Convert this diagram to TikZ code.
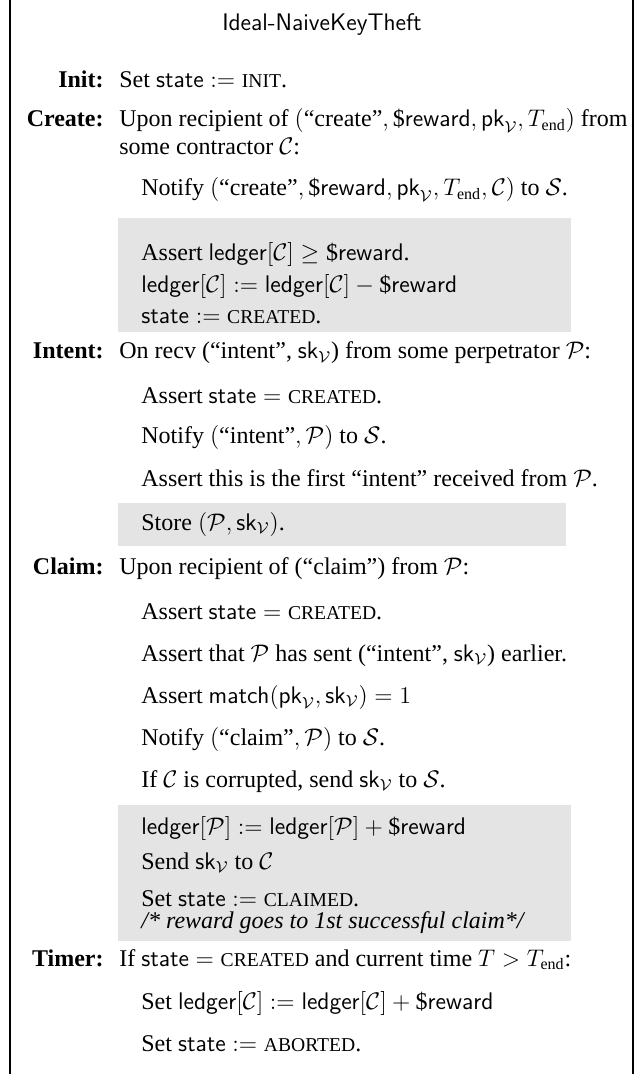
\documentclass[tikz,border=0pt]{standalone}
\usepackage{amsmath}
\usepackage{fontspec}
\setmainfont{Liberation Serif}
\usetikzlibrary{positioning}

\definecolor{boxgray}{RGB}{228,228,228}
% Times has no small caps: scaled capitals stand in for them
\newcommand{\fakesc}[1]{{\fontsize{9.8}{10}\selectfont #1}}
\newcommand{\sfv}[1]{\mathsf{#1}}
\newcommand{\Vk}{_{\mathcal{V}}}
\newcommand{\rew}{\text{\$}\mathsf{reward}}
\newcommand{\Tend}{T_{\mathrm{end}}}

\tikzset{
  txt/.style={anchor=base west, inner sep=0pt, font=\fontsize{12}{14}\selectfont},
  lbl/.style={anchor=base east, inner sep=0pt, font=\fontsize{12}{14}\selectfont\bfseries},
  ttl/.style={anchor=base, inner sep=0pt, font=\fontsize{12}{14}\selectfont\sffamily},
  shade/.style={fill=boxgray, draw=none},
  frame/.style={line width=0.7pt, line cap=butt},
}

\begin{document}
\begin{tikzpicture}[x=0.5pt, y=-0.5pt]
\useasboundingbox (0,0) rectangle (639,1074);

% side rules of the frame
\draw[frame] (10,0) -- (10,1074);
\draw[frame] (633,0) -- (633,1074);

% shaded blocks
\fill[shade] (118,218) rectangle (571,332);
\fill[shade] (118,503) rectangle (566,546);
\fill[shade] (118,805) rectangle (571,941);

\def\lx{104}
\def\bx{119}
\def\ix{141}

\node[ttl] (title) at (322,31) {Ideal-NaiveKeyTheft};

% Init
\node[lbl] (lInit) at (\lx,88) {Init:};
\node[txt] (i1) at (\bx,88) {Set $\sfv{state} := \text{\fakesc{INIT}}$.};

% Create
\node[lbl] (lCreate) at (\lx,127) {Create:};
\node[txt] (c1) at (\bx,127) {Upon recipient of $(\text{“create”}, \rew, \sfv{pk}\Vk, \Tend)$ from};
\node[txt] (c2) at (\bx,155) {some contractor $\mathcal{C}$:};
\node[txt] (c3) at (\ix,196) {Notify $(\text{“create”}, \rew, \sfv{pk}\Vk, \Tend, \mathcal{C})$ to $\mathcal{S}$.};
\node[txt] (c4) at (\ix,261) {Assert $\sfv{ledger}[\mathcal{C}] \geq \rew$.};
\node[txt] (c5) at (\ix,293) {$\sfv{ledger}[\mathcal{C}] := \sfv{ledger}[\mathcal{C}] - \rew$};
\node[txt] (c6) at (\ix,324) {$\sfv{state} := \text{\fakesc{CREATED}}$.};

% Intent
\node[lbl] (lIntent) at (\lx,359) {Intent:};
\node[txt] (n1) at (\bx,359) {On recv (“intent”, $\sfv{sk}\Vk$) from some perpetrator $\mathcal{P}$:};
\node[txt] (n2) at (\ix,403) {Assert $\sfv{state} = \text{\fakesc{CREATED}}$.};
\node[txt] (n3) at (\ix,444) {Notify $(\text{“intent”}, \mathcal{P})$ to $\mathcal{S}$.};
\node[txt] (n4) at (\ix,486) {Assert this is the first “intent” received from $\mathcal{P}$.};
\node[txt] (n5) at (\ix,530) {Store $(\mathcal{P}, \sfv{sk}\Vk)$.};

% Claim
\node[lbl] (lClaim) at (\lx,574) {Claim:};
\node[txt] (m1) at (\bx,574) {Upon recipient of (“claim”) from $\mathcal{P}$:};
\node[txt] (m2) at (\ix,619) {Assert $\sfv{state} = \text{\fakesc{CREATED}}$.};
\node[txt] (m3) at (\ix,661) {Assert that $\mathcal{P}$ has sent (“intent”, $\sfv{sk}\Vk$) earlier.};
\node[txt] (m4) at (\ix,703) {Assert $\sfv{match}(\sfv{pk}\Vk, \sfv{sk}\Vk) = 1$};
\node[txt] (m5) at (\ix,745) {Notify $(\text{“claim”}, \mathcal{P})$ to $\mathcal{S}$.};
\node[txt] (m6) at (\ix,787) {If $\mathcal{C}$ is corrupted, send $\sfv{sk}\Vk$ to $\mathcal{S}$.};
\node[txt] (m7) at (\ix,834) {$\sfv{ledger}[\mathcal{P}] := \sfv{ledger}[\mathcal{P}] + \rew$};
\node[txt] (m8) at (\ix,869) {Send $\sfv{sk}\Vk$ to $\mathcal{C}$};
\node[txt] (m9) at (\ix,906) {Set $\sfv{state} := \text{\fakesc{CLAIMED}}$.};
\node[txt] (m10) at (\ix,928) {\itshape /* reward goes to 1st successful claim*/};

% Timer
\node[lbl] (lTimer) at (\lx,966) {Timer:};
\node[txt] (t1) at (\bx,966) {If $\sfv{state} = \text{\fakesc{CREATED}}$ and current time $T > \Tend$:};
\node[txt] (t2) at (\ix,1009) {Set $\sfv{ledger}[\mathcal{C}] := \sfv{ledger}[\mathcal{C}] + \rew$};
\node[txt] (t3) at (\ix,1051) {Set $\sfv{state} := \text{\fakesc{ABORTED}}$.};
\end{tikzpicture}
\end{document}
